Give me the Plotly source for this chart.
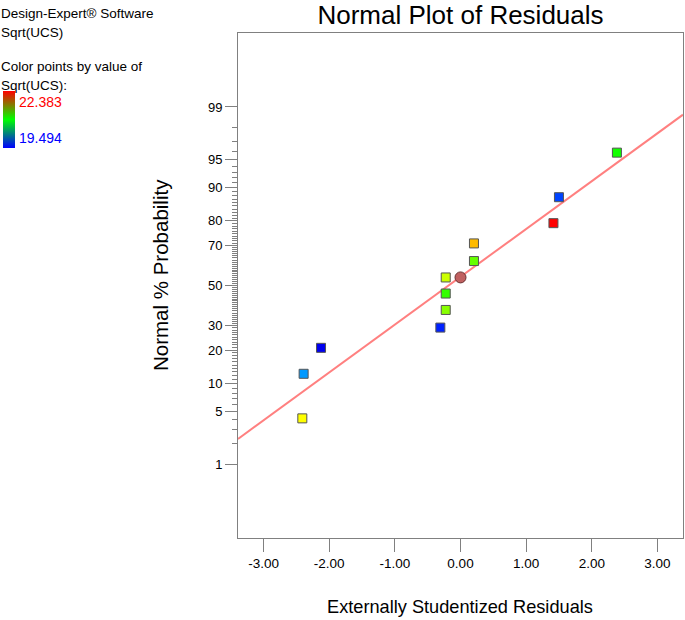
import plotly.graph_objects as go
from statistics import NormalDist

# ---- data ----
residuals = [-2.41, -2.39, -2.125, -0.307, -0.225, -0.225, -0.225, 0.205, 0.205, 1.416, 1.50, 2.383]
probabilities = [4.17, 12.5, 20.83, 29.17, 37.5, 45.83, 54.17, 62.5, 70.83, 79.17, 87.5, 95.83]
point_colors = ["#FFFF00", "#0099FF", "#0000EE", "#0022FF", "#88FF00", "#33FF00",
                "#CCFF00", "#66FF00", "#FFBB00", "#FF0000", "#0044FF", "#11FF00"]
center_x = [0.0]
center_prob = [54.2]
fit_x = [-3.39, 3.39]
fit_prob = [2.28, 98.7]
y_tick_probs = [1, 5, 10, 20, 30, 50, 70, 80, 90, 95, 99]
x_tick_vals = [-3, -2, -1, 0, 1, 2, 3]
x_tick_text = ["-3.00", "-2.00", "-1.00", "0.00", "1.00", "2.00", "3.00"]
color_min, color_max = 19.494, 22.383

nd = NormalDist()
z = lambda p: nd.inv_cdf(p / 100.0)

FONT = "Liberation Sans, Arial, sans-serif"
W, H = 685, 620
L, R, T, B = 238, 2, 33, 82
pw, ph = W - L - R, H - T - B

def px2paper(px, py):
    return (px - L) / pw, (H - B - py) / ph

fig = go.Figure()

# fit line
fig.add_trace(go.Scatter(x=fit_x, y=[z(p) for p in fit_prob], mode="lines",
                         line=dict(color="#FF8080", width=2), hoverinfo="skip", showlegend=False))

# data points
fig.add_trace(go.Scatter(x=residuals, y=[z(p) for p in probabilities], mode="markers",
                         marker=dict(symbol="square", size=9, color=point_colors,
                                     line=dict(color="#555555", width=1)),
                         showlegend=False))

# center circle
fig.add_trace(go.Scatter(x=center_x, y=[z(p) for p in center_prob], mode="markers",
                         marker=dict(symbol="circle", size=11, color="#C06060",
                                     line=dict(color="#6A3030", width=1)),
                         showlegend=False))

# colour bar (dummy trace)
fig.add_trace(go.Scatter(x=[None], y=[None], mode="markers", showlegend=False, hoverinfo="skip",
                         marker=dict(color=[color_min, color_max], cmin=color_min, cmax=color_max,
                                     colorscale=[[0, "#0000FF"], [0.5, "#00FF00"], [1, "#FF0000"]],
                                     showscale=True,
                                     colorbar=dict(xref="container", yref="container",
                                                   x=3 / W, xanchor="left", xpad=0, ypad=0,
                                                   y=1 - 112 / H, yanchor="top",
                                                   len=57, lenmode="pixels",
                                                   thickness=12, thicknessmode="pixels",
                                                   outlinewidth=0, showticklabels=False, ticks=""))))

minor_probs = [p for p in range(2, 99) if p not in y_tick_probs]

fig.update_xaxes(range=[-3.39, 3.39], tickvals=x_tick_vals, ticktext=x_tick_text,
                 ticks="outside", ticklen=13, tickcolor="#808080", tickwidth=1,
                 showline=True, linecolor="#808080", linewidth=1, mirror=True,
                 showgrid=False, zeroline=False,
                 tickfont=dict(family=FONT, size=13.5, color="black"))
fig.update_yaxes(range=[-3.29, 3.29], tickvals=[z(p) for p in y_tick_probs],
                 ticktext=[str(p) for p in y_tick_probs],
                 ticks="outside", ticklen=12, tickcolor="#808080", tickwidth=1,
                 minor=dict(tickvals=[z(p) for p in minor_probs], ticks="outside", ticklen=5,
                            tickcolor="#808080", tickwidth=1, showgrid=False),
                 showline=True, linecolor="#808080", linewidth=1, mirror=True,
                 showgrid=False, zeroline=False,
                 tickfont=dict(family=FONT, size=13, color="black"))

anns = []
def add_text(text, px, py, size, color="black", xanchor="left", angle=0):
    xp, yp = px2paper(px, py)
    anns.append(dict(text=text, x=xp, y=yp, xref="paper", yref="paper", showarrow=False,
                     xanchor=xanchor, yanchor="middle", textangle=angle,
                     font=dict(family=FONT, size=size, color=color)))

add_text("Design-Expert® Software", -1, 14, 13.5)
add_text("Sqrt(UCS)", -1, 32, 13.5)
add_text("Color points by value of", -1, 67, 13.5)
add_text("Sqrt(UCS):", -1, 85, 13.5)
add_text("22.383", 17, 102, 14, color="#FF0000")
add_text("19.494", 17, 138, 14, color="#0000FF")
add_text("Normal % Probability", 160, 275, 20.5, xanchor="center", angle=-90)
add_text("Externally Studentized Residuals", 460, 607, 18.2, xanchor="center")

fig.update_layout(
    width=W, height=H,
    margin=dict(l=L, r=R, t=T, b=B, autoexpand=False),
    paper_bgcolor="white", plot_bgcolor="white",
    title=dict(text="Normal Plot of Residuals", x=0.5, xref="paper", xanchor="center",
               y=1 - 15 / H, yref="container", yanchor="middle",
               font=dict(family=FONT, size=26, color="black")),
    annotations=anns,
    showlegend=False,
)

fig.write_html("out.html", config={"displayModeBar": False},
               post_script="document.body.style.margin='0';")
